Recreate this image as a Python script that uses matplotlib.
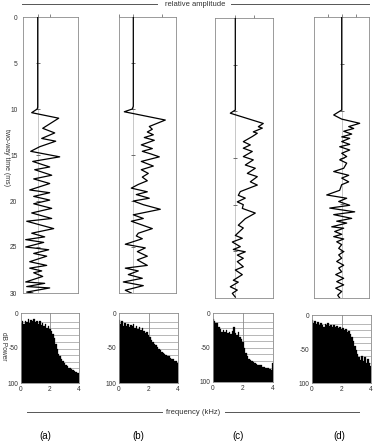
import matplotlib
matplotlib.use("Agg")
import matplotlib.pyplot as plt
from matplotlib.lines import Line2D
import numpy as np

plt.rcParams['font.family'] = ['Liberation Sans', 'DejaVu Sans']

# ---------------- data ----------------
panel_labels = ["(a)", "(b)", "(c)", "(d)"]
time_ticks = [0, 5, 10, 15, 20, 25, 30]
db_ticks = [0, -50, -100]
db_tick_labels = ["0", "-50", "100"]
freq_ticks = [0, 2, 4]
grid_db = [-13, -22, -32, -41, -51, -60, -70, -79, -89]

# waveform traces: (two-way time ms, relative amplitude)
wave_a = [(0, 0), (9.8, 0), (10.0, -0.5), (10.4, -6), (11.0, 21), (12.1, 5), (12.6, 17),
          (13.2, 4), (13.5, 18), (14.1, 2), (14.6, -7), (15.2, 22), (15.7, -5), (16.3, 12),
          (16.6, -3), (17.2, 14), (17.6, -4), (18.1, 12), (18.8, -8), (19.1, 12), (19.5, -4),
          (19.9, 12), (20.3, -4), (20.8, 14), (21.3, -6), (21.9, 14), (22.2, -11), (23.0, 16),
          (23.5, -6), (23.9, 7), (24.2, -12), (24.5, 6), (25.0, -12), (25.3, 11), (25.7, -4),
          (26.0, 9), (26.6, -8), (27.0, 9), (27.3, -8), (27.6, 4), (27.8, -4), (28.2, 5),
          (28.8, -12), (28.95, 7), (29.3, -11), (29.45, 12), (29.9, -11), (30.0, -5)]
wave_b = [(0, 0), (9.7, 0), (10.0, -1), (10.3, -9), (11.2, 32), (11.9, 16), (12.2, 19),
          (12.5, 14), (12.8, 20), (13.1, 11), (13.4, 21), (13.9, 8), (14.3, 19), (14.6, 9),
          (14.9, 18), (15.2, 26), (15.7, 8), (16.2, 20), (16.6, 8), (17.0, 15), (17.4, 9),
          (17.8, 14), (18.2, 5), (18.6, -2), (19.0, 14), (19.3, 3), (19.7, 16), (20.0, 0),
          (20.4, 10), (20.9, 27), (21.5, 0), (21.9, 10), (22.2, -2), (23.0, 19), (23.5, 5),
          (23.8, 3), (24.1, 9), (24.7, -8), (25.1, 12), (25.5, 4), (26.0, 14), (26.4, 4),
          (27.0, 14), (27.3, -8), (27.6, 5), (28.0, -5), (28.4, 9), (28.8, -10), (29.2, 10),
          (29.7, -8), (30.0, -2)]
wave_c = [(0, 0), (9.86, 0), (10.2, -5), (11.3, 28), (11.65, 23), (11.8, 27), (12.2, 18),
          (12.35, 22), (12.7, 17), (13.25, 8), (13.6, 15), (13.95, 8), (14.3, 17), (14.85, 8),
          (15.2, 18), (15.75, 10), (16.1, 20), (16.65, 12), (17.0, 22), (17.55, 15), (17.9, 22),
          (18.1, 17), (18.6, 5), (19.0, 3), (19.3, 10), (19.7, 2), (20.0, 8), (20.4, 7),
          (20.9, 20), (21.5, 10), (22.2, 3), (22.5, 8), (23.3, 0), (23.6, 7), (24.0, -3),
          (24.5, 5), (24.8, -2), (25.05, 10), (25.4, 2), (25.75, 8), (26.1, 2), (26.65, 8),
          (27.0, 0), (27.5, 7), (28.1, -2), (28.3, 3), (28.8, -5), (29.15, 2), (29.5, -3),
          (29.9, 0)]
wave_d = [(0, 0), (9.93, 0), (10.46, -8), (10.9, 0), (11.35, 18), (11.7, 7), (11.9, 12),
          (12.2, 2), (12.5, 10), (12.8, 0), (12.95, 8), (13.3, 0), (13.6, 8), (13.85, -2),
          (14.2, 8), (14.55, 0), (14.9, 5), (15.25, -2), (15.6, 5), (16.15, 2), (16.5, -8),
          (16.9, 7), (17.2, 0), (17.6, 7), (17.9, 0), (18.5, -2), (19.0, -15), (19.35, 5),
          (19.7, -3), (20.1, 8), (20.4, -12), (20.8, 13), (21.1, -8), (21.5, 10), (21.8, -5),
          (22.0, 5), (22.4, -10), (22.55, 2), (22.9, -7), (23.2, 0), (23.45, -8), (23.7, 2),
          (24.0, -5), (24.3, 0), (24.7, -3), (25.05, 2), (25.4, -3), (25.75, 0), (26.1, -5),
          (26.5, 2), (26.8, -3), (27.2, 0), (27.5, -6), (27.9, 2), (28.25, -5), (28.6, 2),
          (28.95, -6), (29.3, 0), (29.7, -4), (30.0, -2)]

# power spectra (dB) at 0.0, 0.1, ..., 4.0 kHz
freq_khz = [round(0.1 * i, 1) for i in range(41)]
power_a = [-14, -12, -16, -11, -13, -9, -14, -10, -12, -9, -13, -11, -15, -12, -17, -14, -19,
           -16, -22, -18, -23, -26, -30, -36, -44, -52, -58, -62, -66, -69, -72, -74, -76,
           -78, -79, -80, -82, -83, -84, -85, -86]
power_b = [-10, -15, -12, -18, -14, -19, -16, -20, -17, -19, -15, -21, -18, -23, -20, -24,
           -22, -26, -28, -27, -31, -34, -38, -41, -44, -46, -48, -51, -53, -55, -57, -58,
           -60, -61, -62, -64, -65, -66, -68, -69, -71]
power_c = [-8, -12, -15, -14, -20, -23, -27, -24, -28, -25, -29, -27, -30, -26, -21, -29,
           -32, -28, -35, -38, -42, -50, -58, -63, -66, -68, -70, -71, -72, -74, -75, -76,
           -76, -78, -78, -79, -80, -80, -81, -82, -72]
power_d = [-8, -12, -9, -13, -11, -15, -12, -14, -17, -13, -15, -12, -16, -14, -17, -15, -18,
           -16, -19, -17, -20, -19, -22, -21, -25, -24, -28, -32, -38, -45, -52, -58, -62,
           -66, -60, -68, -62, -70, -64, -70, -75]

waves = [wave_a, wave_b, wave_c, wave_d]
powers = [power_a, power_b, power_c, power_d]
amp_ticks = [[0, 12.3], [-14.3, 0, 28.7], [0, 18.7], [-13.7, 0, 14.3]]

# ---------------- layout (pixel boxes) ----------------
W, H = 373, 442
fig = plt.figure(figsize=(W / 100, H / 100), dpi=100)


def box(x0, y0, x1, y1):
    return [x0 / W, 1 - y1 / H, (x1 - x0) / W, (y1 - y0) / H]


wave_boxes = [(23, 17, 78, 293), (119, 17, 176, 293), (215, 18, 273, 298), (314, 17, 369, 298)]
wave_base = [37.7, 133.3, 235.3, 341.7]
spec_boxes = [(21, 313, 79, 383), (119, 313, 178, 383), (213, 313, 273, 382), (312, 315, 371, 383)]
label_x = [45, 138, 238, 339]

spine_col = '#8a8a8a'
text_col = '#333333'

for i in range(4):
    x0, y0, x1, y1 = wave_boxes[i]
    ax = fig.add_axes(box(x0, y0, x1, y1))
    b = wave_base[i]
    ax.set_xlim(x0 - b, x1 - b)
    ax.set_ylim(30, 0)
    t = [p[0] for p in waves[i]]
    a = [p[1] for p in waves[i]]
    ax.axvline(0, color='#b0b0b0', lw=0.5, zorder=1)
    ax.plot([0] * 5, time_ticks[1:-1], linestyle='none', marker='_', ms=3,
            mew=0.6, color='#555555', zorder=2)
    ax.plot(a, t, color='black', lw=0.9, zorder=3)
    for s in ax.spines.values():
        s.set_color(spine_col)
        s.set_linewidth(0.6)
    ax.xaxis.set_ticks_position('top')
    ax.set_xticks(amp_ticks[i])
    ax.set_xticklabels([])
    ax.tick_params(axis='x', length=2, width=0.5, color='#555555', direction='out')
    if i == 0:
        ax.set_yticks(time_ticks)
        ax.set_yticklabels([str(v) for v in time_ticks], fontsize=4.8, color=text_col)
        ax.tick_params(axis='y', length=0, pad=4)
    else:
        ax.set_yticks([])

    # spectrum
    x0, y0, x1, y1 = spec_boxes[i]
    sx = fig.add_axes(box(x0, y0, x1, y1))
    sx.set_xlim(0, 4.0)
    sx.set_ylim(-100, 0)
    sx.hlines(grid_db, 0, 4.0, color='#9a9a9a', lw=0.5, zorder=0)
    sx.axvline(2, color='#8a8a8a', lw=0.6, zorder=0)
    vals = np.array(powers[i], dtype=float)
    sx.bar(freq_khz, vals + 100, bottom=-100, width=0.1, color='black',
           edgecolor='black', linewidth=0.2, zorder=2)
    for s in sx.spines.values():
        s.set_color(spine_col)
        s.set_linewidth(0.6)
    sx.set_yticks(db_ticks)
    sx.set_yticklabels(db_tick_labels, fontsize=4.8, color=text_col)
    sx.set_xticks(freq_ticks)
    sx.set_xticklabels([str(v) for v in freq_ticks], fontsize=4.8, color=text_col)
    sx.tick_params(length=0, pad=2)

    fig.text(label_x[i] / W, 1 - 436 / H, panel_labels[i], ha='center', va='center',
             fontsize=7, color='black')

# header and footer rules
line_col = '#555555'
for (xa, xb, y) in [(22, 157, 4), (231, 369, 4), (27, 162, 412), (225, 359, 412)]:
    fig.add_artist(Line2D([xa / W, xb / W], [1 - y / H, 1 - y / H], color=line_col, lw=0.7))
fig.text(195 / W, 1 - 4 / H, "relative amplitude", ha='center', va='center',
         fontsize=5.5, color=text_col)
fig.text(193 / W, 1 - 412 / H, "frequency (kHz)", ha='center', va='center',
         fontsize=5.5, color=text_col)
fig.text(6 / W, 1 - 158 / H, "two-way time (ms)", ha='center', va='center',
         rotation=270, fontsize=5, color=text_col)
fig.text(3.5 / W, 1 - 346 / H, "dB Power", ha='center', va='center',
         rotation=270, fontsize=4.8, color=text_col)

fig.savefig("out.png", dpi=100, facecolor='white')
